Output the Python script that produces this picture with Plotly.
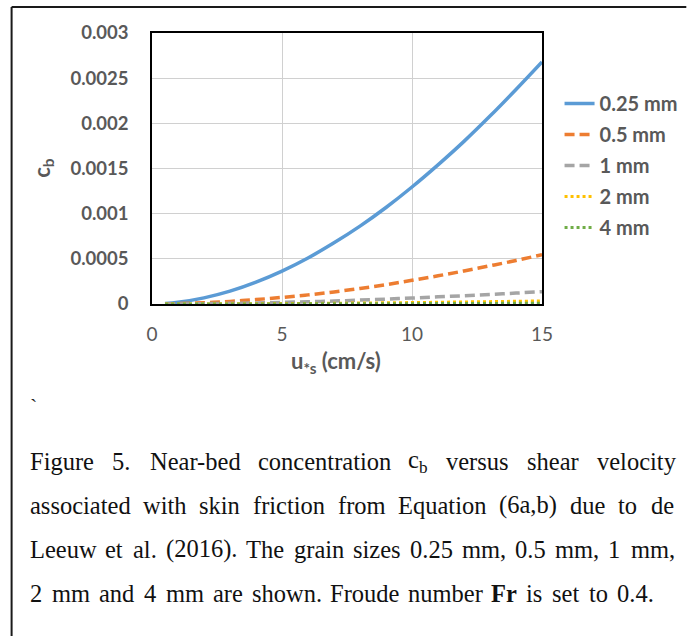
import re
import plotly.graph_objects as go

# ---------------- data ----------------
u_star = [0.5, 1, 2, 3, 4, 5, 6, 7, 8, 9, 10, 11, 12, 13, 14, 15]
cb_025 = [0.000005, 0.000019, 0.000068, 0.000142, 0.000242, 0.000364, 0.000509, 0.000677,
          0.000862, 0.001068, 0.001295, 0.001540, 0.001800, 0.002080, 0.002375, 0.002680]
cb_05 = [0.000001, 0.000004, 0.000014, 0.000029, 0.000049, 0.000073, 0.000101, 0.000134,
         0.000172, 0.000214, 0.000262, 0.000312, 0.000366, 0.000423, 0.000482, 0.000545]
cb_1 = [0.0000003, 0.000001, 0.0000035, 0.0000072, 0.000012, 0.000018, 0.000025, 0.000033,
        0.000043, 0.000054, 0.000066, 0.000079, 0.000092, 0.000106, 0.000121, 0.000136]
cb_2 = [0.0, 0.0000003, 0.000001, 0.000002, 0.000003, 0.0000045, 0.000006, 0.000008,
        0.000011, 0.000013, 0.000016, 0.000019, 0.000023, 0.000026, 0.000030, 0.000034]
cb_4 = [0.0, 0.0000001, 0.0000003, 0.0000005, 0.0000008, 0.0000011, 0.0000015, 0.000002,
        0.0000027, 0.0000033, 0.000004, 0.0000048, 0.0000057, 0.0000065, 0.0000075, 0.0000085]

series_names = ["0.25 mm", "0.5 mm", "1 mm", "2 mm", "4 mm"]
x_tickvals = [0, 5, 10, 15]
x_ticktext = ["0", "5", "10", "15"]
y_tickvals = [0, 0.0005, 0.001, 0.0015, 0.002, 0.0025, 0.003]
y_ticktext = ["0", "0.0005", "0.001", "0.0015", "0.002", "0.0025", "0.003"]

caption_lines = [
    ["Figure", "5.", "Near-bed", "concentration", "c<sub>b</sub>", "versus", "shear", "velocity"],
    ["associated", "with", "skin", "friction", "from", "Equation", "(6a,b)", "due", "to", "de"],
    ["Leeuw", "et", "al.", "(2016).", "The", "grain", "sizes", "0.25", "mm,", "0.5", "mm,", "1", "mm,"],
    ["2", "mm", "and", "4", "mm", "are", "shown.", "Froude", "number", "<b>Fr</b>", "is", "set", "to", "0.4."],
]

# ---------------- layout helpers ----------------
W, H = 695, 636
PL, PR, PT, PB = 152, 552, 33, 304  # plot area in pixels


def px2x(px):
    return (px - PL) / (PR - PL)


def py2y(py):
    return (PB - py) / (PB - PT)


# Times / Liberation Serif advance widths (per 1000 em)
TW = {' ': 250, 'a': 444, 'b': 500, 'c': 444, 'd': 500, 'e': 444, 'f': 333, 'g': 500, 'h': 500,
      'i': 278, 'j': 278, 'k': 500, 'l': 278, 'm': 778, 'n': 500, 'o': 500, 'p': 500, 'q': 500,
      'r': 333, 's': 389, 't': 278, 'u': 500, 'v': 500, 'w': 722, 'x': 500, 'y': 500, 'z': 444,
      'E': 611, 'F': 556, 'L': 611, 'N': 722, 'T': 611, '.': 250, ',': 250, '-': 333, '(': 333,
      ')': 333}
TWB = {'F': 611, 'r': 444}


def word_width(w, size):
    tot = 0.0
    for m in re.finditer(r'<sub>(.*?)</sub>|<b>(.*?)</b>|([^<]+)', w):
        if m.group(1) is not None:
            tot += sum(TW.get(ch, 500) for ch in m.group(1)) * 0.7
        elif m.group(2) is not None:
            tot += sum(TWB.get(ch, TW.get(ch, 500)) for ch in m.group(2))
        else:
            tot += sum(TW.get(ch, 500) for ch in m.group(3))
    return tot / 1000.0 * size


CAP_SIZE = 24.5
cap_left = 26
cap_rights = [686, 686, 686, 665]
cap_ys = [461, 505, 549, 593]

colors = ["#5B9BD5", "#ED7D31", "#A5A5A5", "#FFC000", "#70AD47"]
dashes = ["solid", "10px,5px", "10px,5px", "dot", "dot"]
widths = [3.5, 3.5, 3.5, 3, 3]
all_y = [cb_025, cb_05, cb_1, cb_2, cb_4]

fig = go.Figure()
for i, (name, yy) in enumerate(zip(series_names, all_y)):
    fig.add_trace(go.Scatter(
        x=u_star, y=yy, name=name, mode="lines", legendgroup=name,
        line=dict(color=colors[i], width=widths[i], dash=dashes[i], shape="spline"),
    ))

annotations = []
# caption words, justified
for words, right, yc in zip(caption_lines, cap_rights, cap_ys):
    ws = [word_width(w, CAP_SIZE) for w in words]
    gap = (right - cap_left - sum(ws)) / (len(words) - 1)
    x = cap_left
    for w, wd in zip(words, ws):
        annotations.append(dict(
            text=w, x=px2x(x), y=py2y(yc), xref="paper", yref="paper",
            xanchor="left", yanchor="middle", showarrow=False, borderpad=0,
            font=dict(family="Liberation Serif", size=CAP_SIZE, color="#111111"),
        ))
        x += wd + gap

# stray back-tick
annotations.append(dict(text="`", x=px2x(30), y=py2y(406), xref="paper", yref="paper",
                        xanchor="center", yanchor="middle", showarrow=False,
                        font=dict(family="Liberation Serif", size=22, color="#222")))
# axis titles
annotations.append(dict(text="u<sub>*s</sub> (cm/s)", x=px2x(341), y=py2y(362),
                        xref="paper", yref="paper", xanchor="center", yanchor="middle",
                        showarrow=False,
                        font=dict(family="Lato", size=22, color="#595959", weight="bold")))
annotations.append(dict(text="c<sub>b</sub>", x=px2x(40), y=py2y(168), textangle=-90,
                        xref="paper", yref="paper", xanchor="center", yanchor="middle",
                        showarrow=False,
                        font=dict(family="Lato", size=22, color="#595959", weight="bold")))

# outer frame: only the top and left edges fall inside the picture
frame = dict(color="#1a1a1a", width=2)
shapes = [
    dict(type="line", xref="paper", yref="paper", x0=px2x(8), x1=px2x(W + 5),
         y0=py2y(7), y1=py2y(7), line=frame, layer="below"),
    dict(type="line", xref="paper", yref="paper", x0=px2x(8), x1=px2x(8),
         y0=py2y(7), y1=py2y(H + 5), line=frame, layer="below"),
]

fig.update_layout(
    width=W, height=H,
    margin=dict(l=PL, r=W - PR, t=PT, b=H - PB, pad=0),
    paper_bgcolor="white", plot_bgcolor="white",
    showlegend=True,
    legend=dict(x=px2x(570), y=py2y(84), xanchor="left", yanchor="top",
                font=dict(family="Lato", size=20, color="#595959", weight="bold"),
                tracegroupgap=2, bgcolor="rgba(0,0,0,0)", itemwidth=30),
    annotations=annotations, shapes=shapes,
    xaxis=dict(range=[0, 15], tickvals=x_tickvals, ticktext=x_ticktext,
               showgrid=True, gridcolor="#D0D0D0", gridwidth=1.3, zeroline=False,
               showline=True, linecolor="black", linewidth=1.5, mirror=True,
               ticks="", ticklabelstandoff=12,
               tickfont=dict(family="Lato", size=19, color="#595959")),
    yaxis=dict(range=[0, 0.003], tickvals=y_tickvals, ticktext=y_ticktext,
               showgrid=True, gridcolor="#D0D0D0", gridwidth=1.3, zeroline=False,
               showline=True, linecolor="black", linewidth=1.5, mirror=True,
               ticks="", ticklabelstandoff=18,
               tickfont=dict(family="Lato", size=18.5, color="#595959", weight="bold")),
)

fig.write_html(
    "out.html", config={"displayModeBar": False},
    post_script=("document.documentElement.style.overflow='hidden';"
                 "document.body.style.overflow='hidden';"
                 "document.body.style.margin='0px';"),
)
